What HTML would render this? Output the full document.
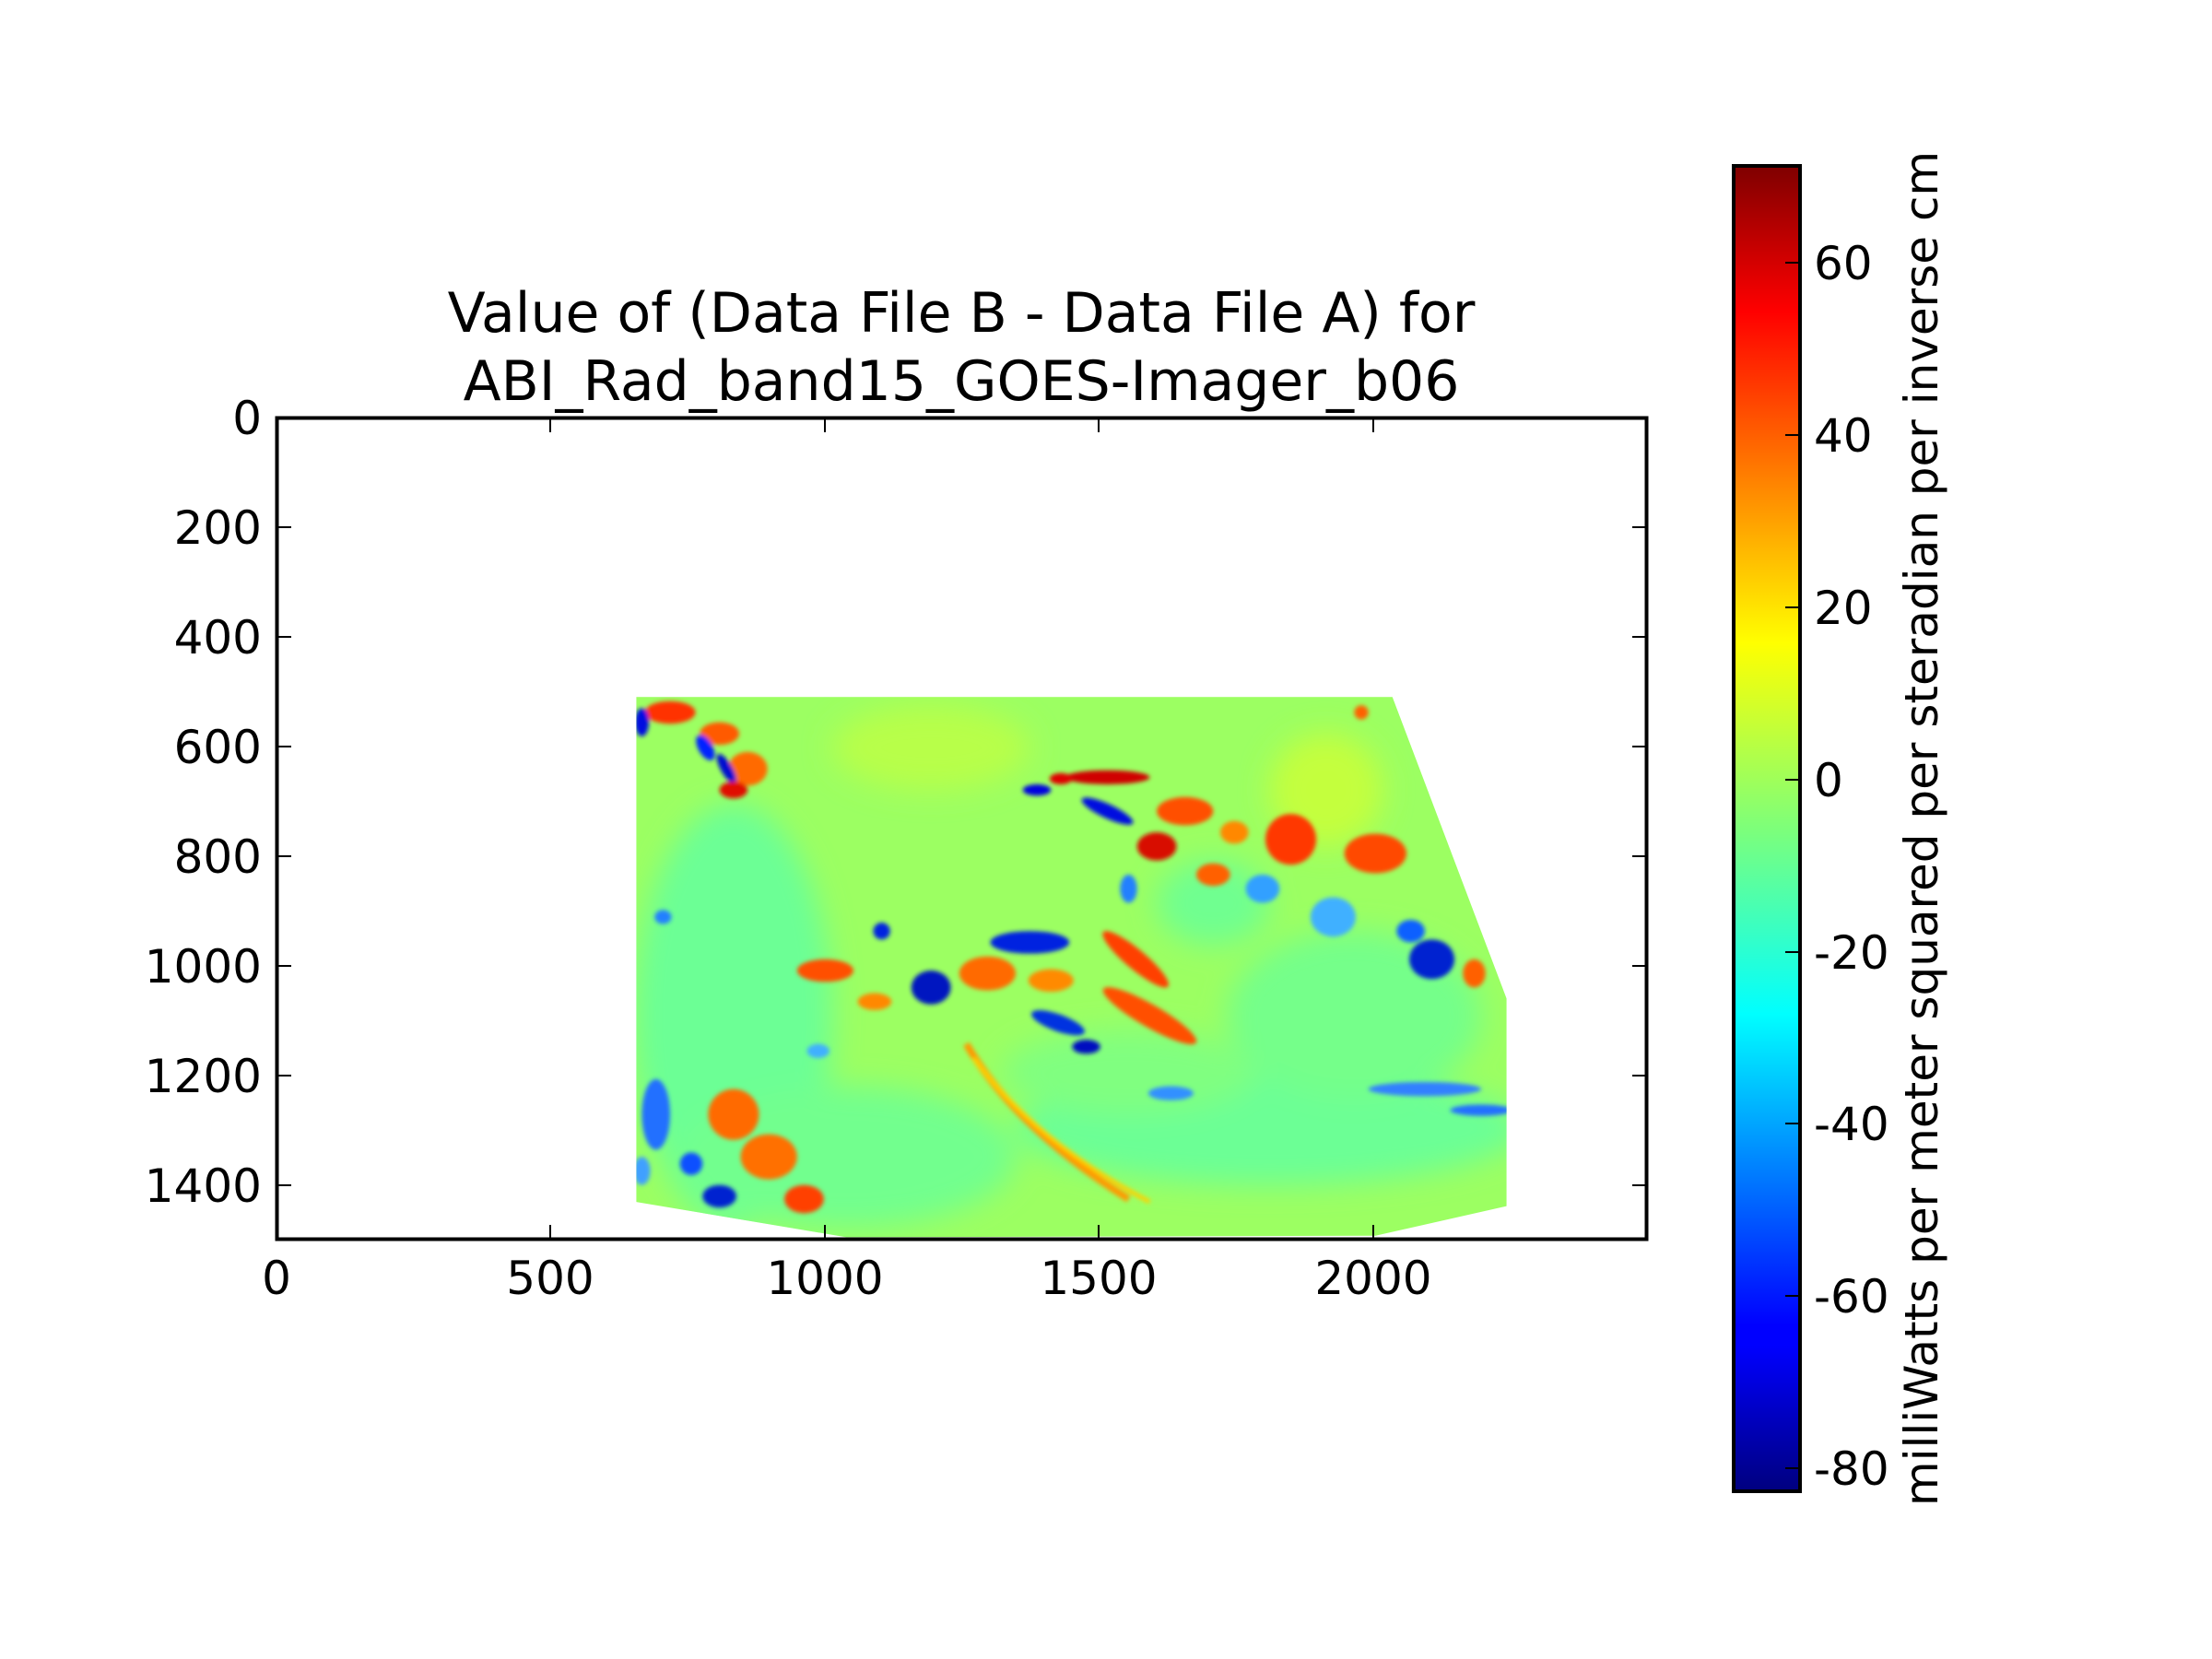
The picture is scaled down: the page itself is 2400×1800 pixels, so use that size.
<!DOCTYPE html>
<html><head><meta charset="utf-8"><style>
html,body{margin:0;padding:0;background:#fff;}
svg{display:block;}
text{font-family:"DejaVu Sans","Liberation Sans",sans-serif;fill:#000;}
</style></head><body>
<svg width="2400" height="1800" viewBox="0 0 2400 1800" xmlns="http://www.w3.org/2000/svg">
<defs>
<linearGradient id="jet" x1="0" y1="1" x2="0" y2="0">
<stop offset="0" stop-color="#00007f"/>
<stop offset="0.11" stop-color="#0000ff"/>
<stop offset="0.125" stop-color="#0000ff"/>
<stop offset="0.36" stop-color="#00ffff"/>
<stop offset="0.5" stop-color="#7dff7a"/>
<stop offset="0.64" stop-color="#ffff00"/>
<stop offset="0.89" stop-color="#ff0000"/>
<stop offset="1" stop-color="#7f0000"/>
</linearGradient>
<clipPath id="dc"><polygon points="451,494 987,494 1068,708 1068,855 975,876 600,877 451,852"/></clipPath>
<filter id="bl" x="-20%" y="-20%" width="140%" height="140%"><feGaussianBlur stdDeviation="1.5"/></filter>
<filter id="bl2" x="-20%" y="-20%" width="140%" height="140%"><feGaussianBlur stdDeviation="10"/></filter>
</defs>

<g transform="scale(1.5306)">
<g clip-path="url(#dc)">
<rect x="440" y="480" width="640" height="410" fill="#9cff62"/>
<g filter="url(#bl2)">
<ellipse cx="520" cy="720" rx="70" ry="150" fill="#6cff95"/>
<ellipse cx="600" cy="820" rx="120" ry="50" fill="#72ff8e"/>
<ellipse cx="900" cy="800" rx="180" ry="40" fill="#6cff95"/>
<ellipse cx="960" cy="720" rx="90" ry="60" fill="#75ff8a"/>
<ellipse cx="660" cy="530" rx="70" ry="30" fill="#b8ff48"/>
<ellipse cx="940" cy="560" rx="40" ry="40" fill="#c4ff3c"/>
<ellipse cx="800" cy="760" rx="90" ry="30" fill="#80ff80"/>
<ellipse cx="860" cy="640" rx="40" ry="30" fill="#70ff90"/>
</g>
<g filter="url(#bl)">
<ellipse cx="475" cy="505" rx="18" ry="8" fill="#ff3000"/>
<ellipse cx="510" cy="520" rx="14" ry="8" fill="#ff5a00"/>
<ellipse cx="530" cy="545" rx="14" ry="12" fill="#ff6a00"/>
<ellipse cx="455" cy="512" rx="5" ry="10" fill="#0010e0"/>
<ellipse cx="500" cy="530" rx="5" ry="10" fill="#0020ff" transform="rotate(-30 500 530)"/>
<ellipse cx="515" cy="545" rx="4" ry="12" fill="#0010d0" transform="rotate(-30 515 545)"/>
<ellipse cx="520" cy="560" rx="10" ry="6" fill="#e01000"/>
<ellipse cx="785" cy="551" rx="30" ry="5" fill="#d00000"/>
<ellipse cx="752" cy="552" rx="8" ry="4" fill="#e00000"/>
<ellipse cx="735" cy="560" rx="10" ry="4" fill="#0000e0"/>
<ellipse cx="785" cy="575" rx="20" ry="5" fill="#0010e0" transform="rotate(25 785 575)"/>
<ellipse cx="840" cy="575" rx="20" ry="10" fill="#ff5000"/>
<ellipse cx="820" cy="600" rx="14" ry="10" fill="#d81000"/>
<ellipse cx="860" cy="620" rx="12" ry="8" fill="#ff6000"/>
<ellipse cx="915" cy="595" rx="18" ry="18" fill="#ff3800"/>
<ellipse cx="975" cy="605" rx="22" ry="14" fill="#ff4800"/>
<ellipse cx="875" cy="590" rx="10" ry="8" fill="#ff8800"/>
<ellipse cx="800" cy="630" rx="6" ry="10" fill="#2080ff"/>
<ellipse cx="895" cy="630" rx="12" ry="10" fill="#30a0ff"/>
<ellipse cx="945" cy="650" rx="16" ry="14" fill="#40b0ff"/>
<ellipse cx="1015" cy="680" rx="16" ry="14" fill="#0020d0"/>
<ellipse cx="1000" cy="660" rx="10" ry="8" fill="#1060ff"/>
<ellipse cx="1045" cy="690" rx="8" ry="10" fill="#ff6000"/>
<ellipse cx="730" cy="668" rx="28" ry="8" fill="#0020e0"/>
<ellipse cx="660" cy="700" rx="14" ry="12" fill="#0018c0"/>
<ellipse cx="625" cy="660" rx="6" ry="6" fill="#0020e0"/>
<ellipse cx="585" cy="688" rx="20" ry="8" fill="#ff5000"/>
<ellipse cx="700" cy="690" rx="20" ry="12" fill="#ff6a00"/>
<ellipse cx="745" cy="695" rx="16" ry="8" fill="#ff8a00"/>
<ellipse cx="805" cy="680" rx="30" ry="7" fill="#ff4000" transform="rotate(40 805 680)"/>
<ellipse cx="815" cy="720" rx="38" ry="8" fill="#ff5000" transform="rotate(30 815 720)"/>
<ellipse cx="750" cy="725" rx="20" ry="6" fill="#0030e0" transform="rotate(20 750 725)"/>
<ellipse cx="770" cy="742" rx="10" ry="5" fill="#0010c0"/>
<ellipse cx="620" cy="710" rx="12" ry="6" fill="#ff8800"/>
<path d="M685,740 Q720,800 800,850" stroke="#ff9a00" stroke-width="5" fill="none"/>
<path d="M690,750 Q735,810 815,852" stroke="#ffd000" stroke-width="3" fill="none"/>
<ellipse cx="520" cy="790" rx="18" ry="18" fill="#ff6a00"/>
<ellipse cx="545" cy="820" rx="20" ry="16" fill="#ff7000"/>
<ellipse cx="570" cy="850" rx="14" ry="10" fill="#ff4000"/>
<ellipse cx="465" cy="790" rx="10" ry="25" fill="#2070ff"/>
<ellipse cx="510" cy="848" rx="12" ry="8" fill="#0020d0"/>
<ellipse cx="490" cy="825" rx="8" ry="8" fill="#1050ff"/>
<ellipse cx="455" cy="830" rx="6" ry="10" fill="#40a0ff"/>
<ellipse cx="1010" cy="772" rx="40" ry="5" fill="#3080ff"/>
<ellipse cx="1050" cy="787" rx="22" ry="4" fill="#2070ff"/>
<ellipse cx="830" cy="775" rx="16" ry="5" fill="#3090ff"/>
<ellipse cx="580" cy="745" rx="8" ry="5" fill="#40b0ff"/>
<ellipse cx="470" cy="650" rx="6" ry="5" fill="#2080ff"/>
<ellipse cx="965" cy="505" rx="5" ry="5" fill="#ff6000"/>
</g>
</g>
</g>

<rect x="300.5" y="453.5" width="1486" height="891" fill="none" stroke="#000" stroke-width="4"/>
<g stroke="#000" stroke-width="2">
<line x1="300" y1="572" x2="316" y2="572"/><line x1="1787" y1="572" x2="1771" y2="572"/>
<line x1="300" y1="691" x2="316" y2="691"/><line x1="1787" y1="691" x2="1771" y2="691"/>
<line x1="300" y1="810" x2="316" y2="810"/><line x1="1787" y1="810" x2="1771" y2="810"/>
<line x1="300" y1="929" x2="316" y2="929"/><line x1="1787" y1="929" x2="1771" y2="929"/>
<line x1="300" y1="1048" x2="316" y2="1048"/><line x1="1787" y1="1048" x2="1771" y2="1048"/>
<line x1="300" y1="1167" x2="316" y2="1167"/><line x1="1787" y1="1167" x2="1771" y2="1167"/>
<line x1="300" y1="1286" x2="316" y2="1286"/><line x1="1787" y1="1286" x2="1771" y2="1286"/>
<line x1="597" y1="453" x2="597" y2="469"/><line x1="597" y1="1345" x2="597" y2="1329"/>
<line x1="895" y1="453" x2="895" y2="469"/><line x1="895" y1="1345" x2="895" y2="1329"/>
<line x1="1192" y1="453" x2="1192" y2="469"/><line x1="1192" y1="1345" x2="1192" y2="1329"/>
<line x1="1490" y1="453" x2="1490" y2="469"/><line x1="1490" y1="1345" x2="1490" y2="1329"/>
</g>
<g font-size="50" text-anchor="end">
<text x="284" y="471">0</text>
<text x="284" y="590">200</text>
<text x="284" y="709">400</text>
<text x="284" y="828">600</text>
<text x="284" y="947">800</text>
<text x="284" y="1066">1000</text>
<text x="284" y="1185">1200</text>
<text x="284" y="1304">1400</text>
</g>
<g font-size="50" text-anchor="middle">
<text x="300" y="1404">0</text>
<text x="597" y="1404">500</text>
<text x="895" y="1404">1000</text>
<text x="1192" y="1404">1500</text>
<text x="1490" y="1404">2000</text>
</g>
<g font-size="60" text-anchor="middle">
<text x="1043" y="360">Value of (Data File B - Data File A) for</text>
<text x="1043" y="434">ABI_Rad_band15_GOES-Imager_b06</text>
</g>

<rect x="1881" y="180" width="72" height="1438" fill="url(#jet)" stroke="#000" stroke-width="4"/>
<g stroke="#000" stroke-width="2">
<line x1="1937" y1="285" x2="1953" y2="285"/>
<line x1="1937" y1="472" x2="1953" y2="472"/>
<line x1="1937" y1="659" x2="1953" y2="659"/>
<line x1="1937" y1="846" x2="1953" y2="846"/>
<line x1="1937" y1="1033" x2="1953" y2="1033"/>
<line x1="1937" y1="1219" x2="1953" y2="1219"/>
<line x1="1937" y1="1406" x2="1953" y2="1406"/>
<line x1="1937" y1="1593" x2="1953" y2="1593"/>
</g>
<g font-size="50">
<text x="1968" y="303">60</text>
<text x="1968" y="490">40</text>
<text x="1968" y="677">20</text>
<text x="1968" y="864">0</text>
<text x="1968" y="1051">-20</text>
<text x="1968" y="1237">-40</text>
<text x="1968" y="1424">-60</text>
<text x="1968" y="1611">-80</text>
</g>
<text font-size="50" text-anchor="middle" transform="translate(2102,899) rotate(-90)">milliWatts per meter squared per steradian per inverse cm</text>
</svg>
</body></html>
